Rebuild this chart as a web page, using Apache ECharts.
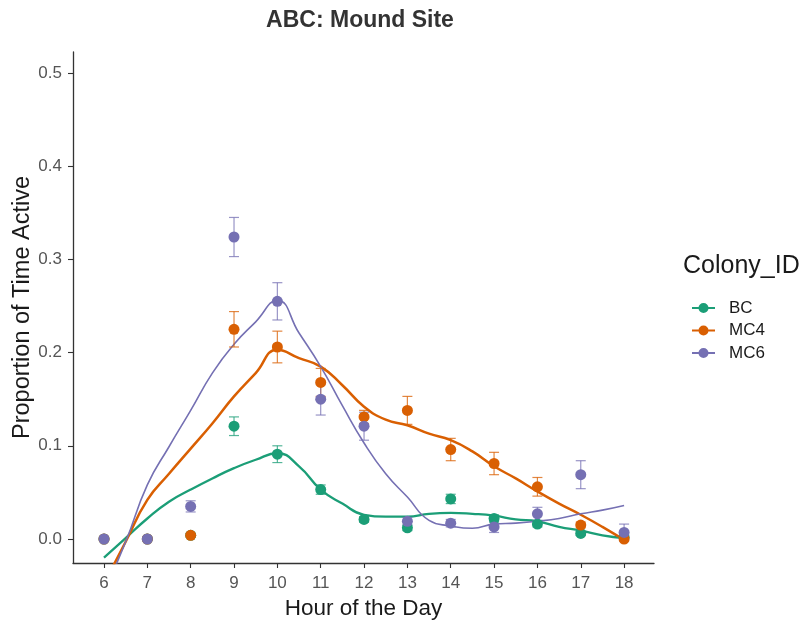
<!DOCTYPE html>
<html>
<head>
<meta charset="utf-8">
<script src="https://cdn.jsdelivr.net/npm/echarts@6/dist/echarts.min.js"></script>
<style>html,body{margin:0;padding:0;background:#fff;}#main{width:805px;height:623px;}</style>
</head>
<body>
<div id="main"></div>
<script>
// ---- data ----
const hours = [6, 7, 8, 9, 10, 11, 12, 13, 14, 15, 16, 17, 18];
const bcMean  = [0, 0, 0.004, 0.121, 0.091, 0.053, 0.021, 0.012, 0.043, 0.022, 0.016, 0.006, 0.002];
const bcSE    = [0, 0, 0.002, 0.010, 0.009, 0.005, 0.003, 0.003, 0.005, 0.004, 0.003, 0.002, 0.002];
const mc4Mean = [0, 0, 0.004, 0.225, 0.206, 0.168, 0.131, 0.138, 0.096, 0.081, 0.056, 0.015, 0.000];
const mc4SE   = [0, 0, 0.002, 0.019, 0.017, 0.015, 0.007, 0.015, 0.012, 0.012, 0.010, 0.003, 0.002];
const mc6Mean = [0, 0, 0.035, 0.324, 0.255, 0.150, 0.121, 0.019, 0.017, 0.013, 0.027, 0.069, 0.007];
const mc6SE   = [0, 0, 0.006, 0.021, 0.020, 0.017, 0.015, 0.004, 0.004, 0.006, 0.007, 0.015, 0.009];

const smoothHours = [6, 6.5, 7, 7.5, 8, 8.5, 9, 9.5, 10, 10.5, 11, 11.5, 12, 12.5, 13, 13.5, 14, 14.5, 15, 15.5, 16, 16.5, 17, 17.5, 18];
const bcSmooth  = [-0.020, 0.001, 0.022, 0.040, 0.053, 0.065, 0.076, 0.085, 0.092, 0.078, 0.053, 0.038, 0.026, 0.024, 0.024, 0.027, 0.028, 0.027, 0.025, 0.021, 0.019, 0.013, 0.009, 0.004, 0.001];
const mc4Smooth = [-0.048, -0.003, 0.042, 0.070, 0.097, 0.124, 0.153, 0.178, 0.203, 0.194, 0.185, 0.165, 0.142, 0.128, 0.122, 0.113, 0.106, 0.094, 0.078, 0.065, 0.051, 0.038, 0.026, 0.013, -0.001];
const mc6Smooth = [-0.057, -0.003, 0.058, 0.099, 0.138, 0.178, 0.209, 0.233, 0.256, 0.221, 0.185, 0.143, 0.103, 0.070, 0.045, 0.020, 0.014, 0.0115, 0.016, 0.017, 0.019, 0.022, 0.027, 0.031, 0.036];

const groups = ['BC', 'MC4', 'MC6'];
const xTicks = [6, 7, 8, 9, 10, 11, 12, 13, 14, 15, 16, 17, 18];
const yTicks = [0, 0.1, 0.2, 0.3, 0.4, 0.5];

// ---- styling ----
const colors = {BC: '#1B9E77', MC4: '#D95F02', MC6: '#7570B3'};
const lineWidths = {BC: 2.3, MC4: 2.5, MC6: 1.6};
const FONT = '"Liberation Sans", Arial, sans-serif';

const means = {BC: bcMean, MC4: mc4Mean, MC6: mc6Mean};
const ses = {BC: bcSE, MC4: mc4SE, MC6: mc6SE};
const smooths = {BC: bcSmooth, MC4: mc4Smooth, MC6: mc6Smooth};

const pair = (xs, ys) => xs.map((x, i) => [x, ys[i]]);

function errRender(params, api) {
  const x = api.value(0), lo = api.value(1), hi = api.value(2);
  const pTop = api.coord([x, hi]);
  const pBot = api.coord([x, lo]);
  const w = 5;
  const st = {stroke: api.visual('color'), lineWidth: 1.2, opacity: 0.75};
  return {
    type: 'group',
    children: [
      {type: 'line', shape: {x1: pTop[0], y1: pTop[1], x2: pBot[0], y2: pBot[1]}, style: st},
      {type: 'line', shape: {x1: pTop[0] - w, y1: pTop[1], x2: pTop[0] + w, y2: pTop[1]}, style: st},
      {type: 'line', shape: {x1: pBot[0] - w, y1: pBot[1], x2: pBot[0] + w, y2: pBot[1]}, style: st}
    ]
  };
}

const series = [];
groups.forEach(g => {
  series.push({
    name: g, type: 'scatter', z: 5,
    data: pair(hours, means[g]),
    symbol: 'circle', symbolSize: 11,
    itemStyle: {color: colors[g], opacity: 1}
  });
});
groups.forEach(g => {
  series.push({
    name: g, type: 'custom', z: 4, clip: true,
    renderItem: errRender,
    encode: {x: 0, y: [1, 2]},
    itemStyle: {color: colors[g]},
    data: hours.map((h, i) => [h, means[g][i] - ses[g][i], means[g][i] + ses[g][i]])
  });
});
groups.forEach(g => {
  series.push({
    name: g, type: 'line', z: 3, clip: true,
    data: pair(smoothHours, smooths[g]),
    smooth: 0.5,
    showSymbol: false, symbol: 'none',
    lineStyle: {color: colors[g], width: lineWidths[g]},
    itemStyle: {color: colors[g]}
  });
});

const chart = echarts.init(document.getElementById('main'), null, {renderer: 'canvas'});
chart.setOption({
  animation: false,
  backgroundColor: '#ffffff',
  textStyle: {fontFamily: FONT},
  title: [
    {text: 'ABC: Mound Site', left: 355, top: 4, textAlign: 'center',
     textStyle: {fontFamily: FONT, fontSize: 23, fontWeight: 'bold', color: '#333333'}},
    {text: 'Colony_ID', left: 678, top: 249,
     textStyle: {fontFamily: FONT, fontSize: 25, fontWeight: 'normal', color: '#1a1a1a'}}
  ],
  legend: {
    data: groups, orient: 'vertical', left: 692, top: 299.5, padding: 0,
    itemWidth: 23, itemHeight: 10, itemGap: 5.5,
    icon: 'path://M0,4H7V6H0Z M16,4H23V6H16Z M16.5,5A5,5,0,1,1,6.5,5A5,5,0,1,1,16.5,5Z',
    textStyle: {fontFamily: FONT, fontSize: 17, lineHeight: 17, color: '#1a1a1a', padding: [0, 0, 0, 9]}
  },
  grid: {left: 73, right: 151, top: 52, bottom: 60, containLabel: false, outerBoundsMode: 'none'},
  xAxis: {
    type: 'value', min: 5.285, max: 18.69,
    name: 'Hour of the Day', nameLocation: 'middle', nameGap: 28,
    nameTextStyle: {fontFamily: FONT, fontSize: 22.5, color: '#1a1a1a'},
    axisLine: {show: true, onZero: false, lineStyle: {color: '#333333', width: 1.3}},
    axisTick: {show: true, length: 5, customValues: xTicks, lineStyle: {color: '#333333', width: 1.1}},
    axisLabel: {customValues: xTicks, margin: 12, fontFamily: FONT, fontSize: 17, color: '#555555'},
    splitLine: {show: false}
  },
  yAxis: {
    type: 'value', min: -0.02575, max: 0.5225,
    name: 'Proportion of Time Active', nameLocation: 'middle', nameGap: 38, nameRotate: 90,
    nameMoveOverlap: false,
    nameTextStyle: {fontFamily: FONT, fontSize: 23.5, color: '#1a1a1a'},
    axisLine: {show: true, onZero: false, lineStyle: {color: '#333333', width: 1.3}},
    axisTick: {show: true, length: 5, customValues: yTicks, lineStyle: {color: '#333333', width: 1.1}},
    axisLabel: {customValues: yTicks, margin: 11, fontFamily: FONT, fontSize: 17, color: '#555555',
      formatter: v => v.toFixed(1)},
    splitLine: {show: false}
  },
  series: series
});
</script>
</body>
</html>
